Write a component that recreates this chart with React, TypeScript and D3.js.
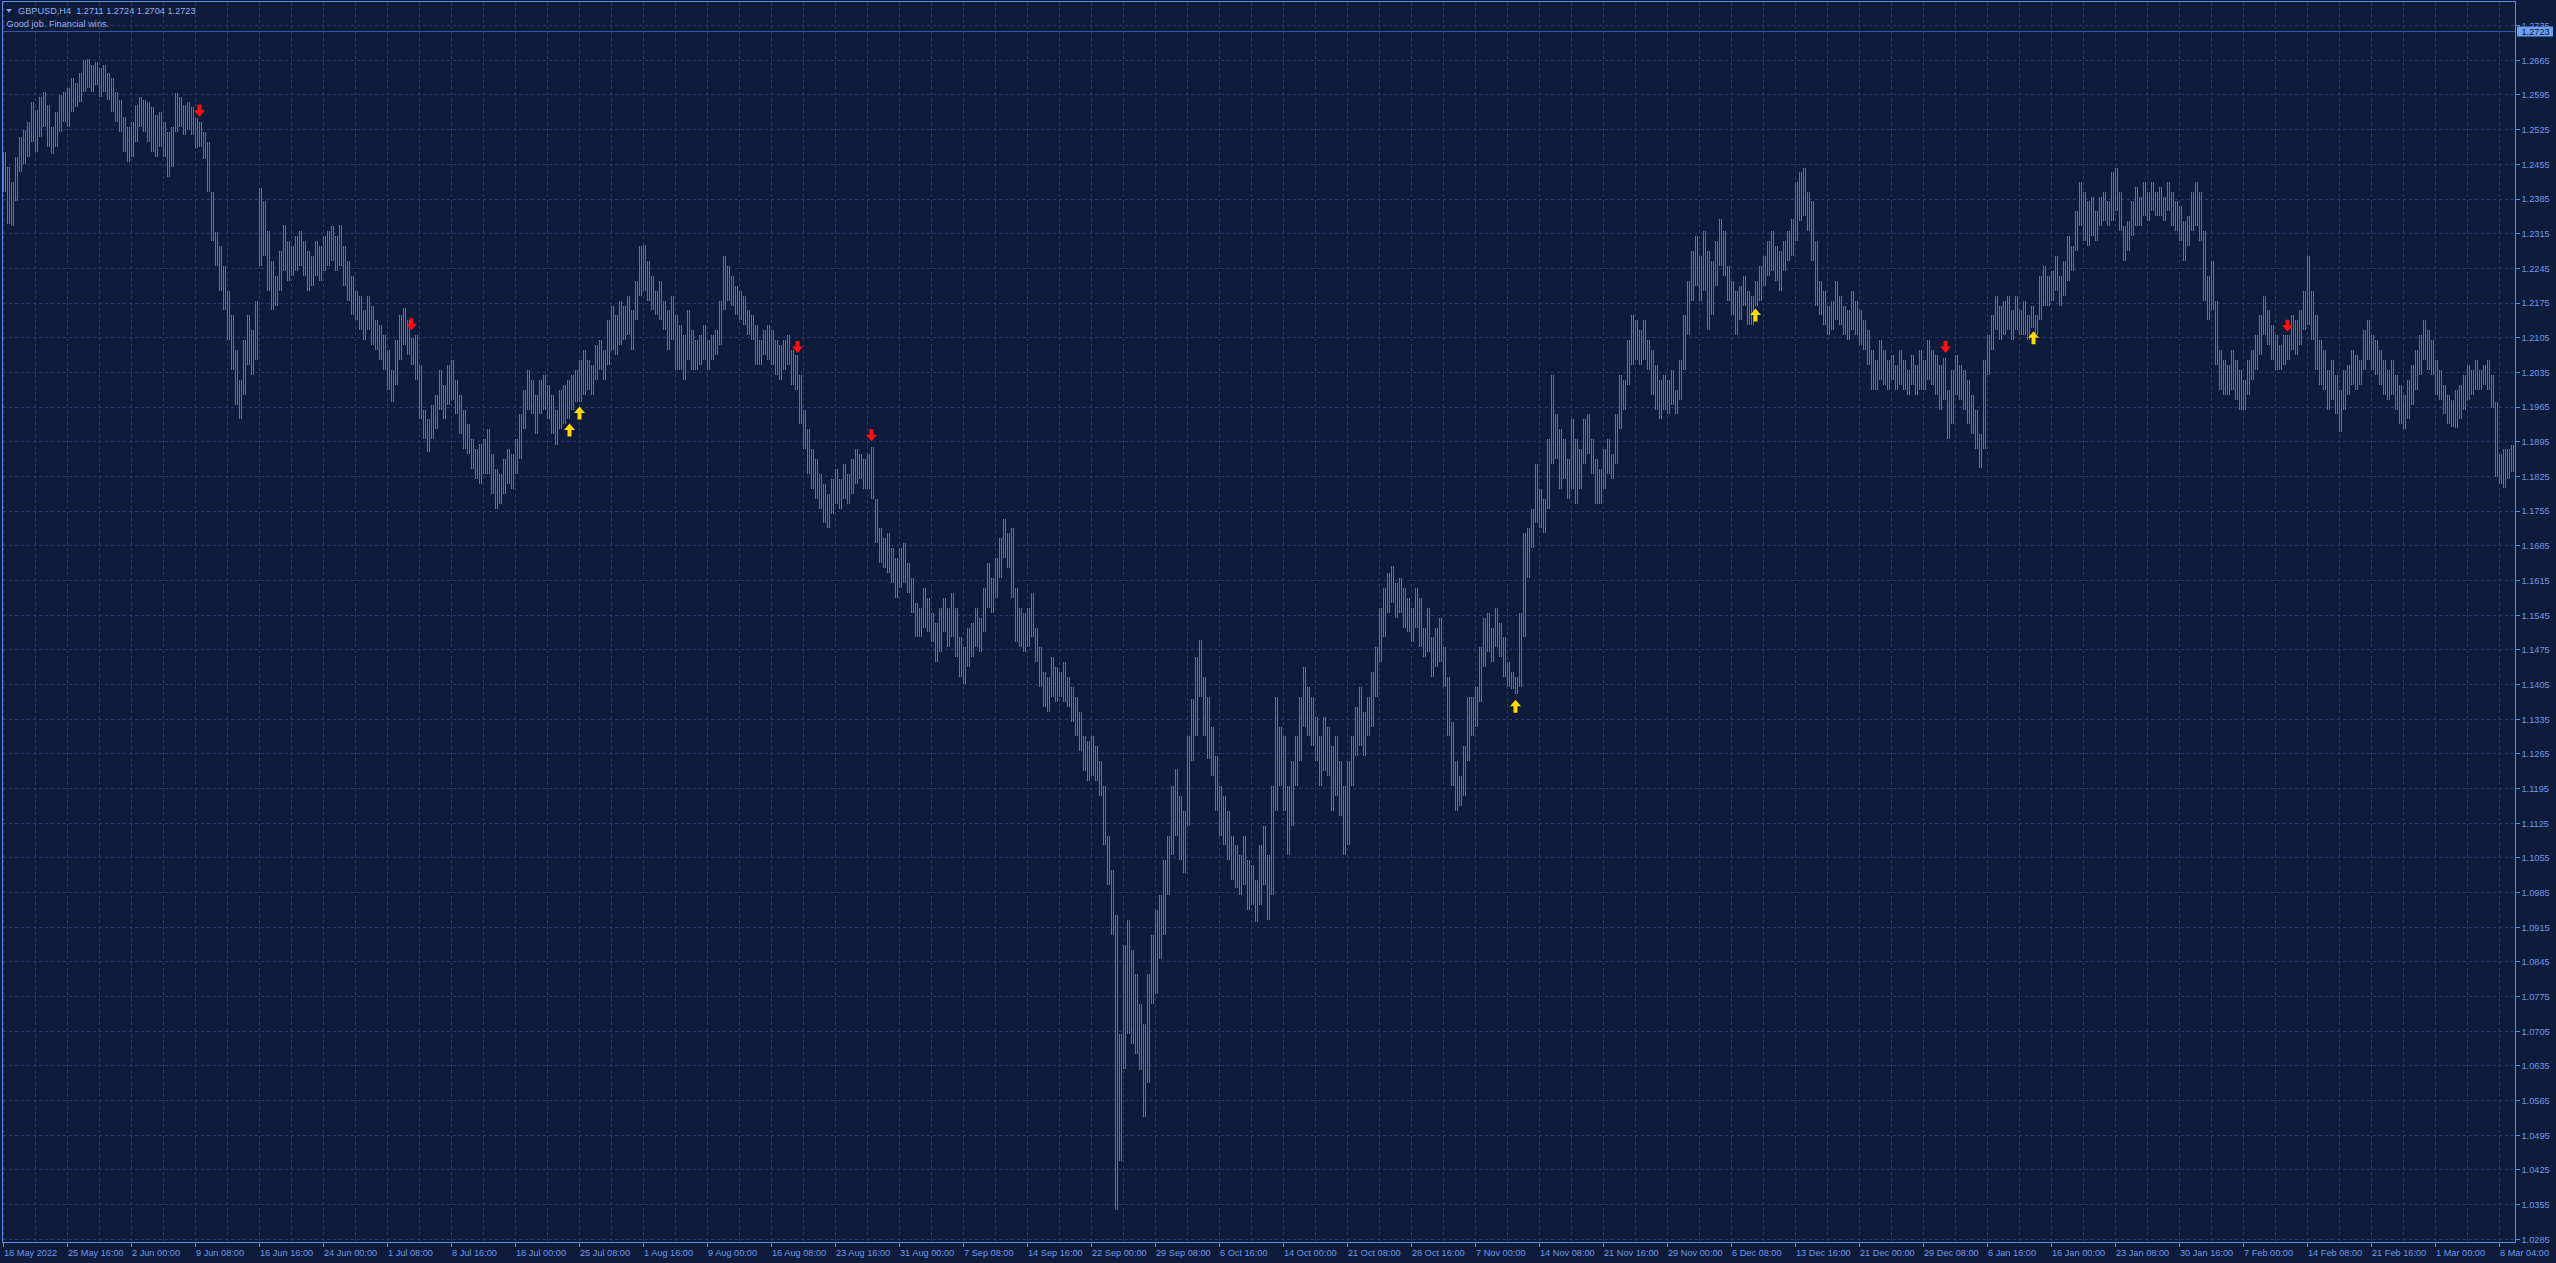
import React from 'react';
import * as d3 from 'd3';

// ---------- data (GBPUSD H4, each entry = range of two consecutive H4 bars; prices x 10000) ----------
const HIGHS: number[] = [
12480,12450,12420,12470,12510,12525,12540,12580,12565,12590,12600,12575,12530,12560,12595,12600,
12610,12630,12620,12640,12665,12668,12655,12662,12650,12655,12640,12630,12600,12585,12550,12530,
12540,12575,12590,12585,12580,12571,12555,12560,12541,12520,12530,12599,12590,12575,12581,12570,
12548,12540,12521,12500,12400,12318,12290,12250,12200,12150,12080,12020,12100,12150,12120,12180,
12407,12380,12320,12260,12230,12280,12333,12300,12290,12310,12320,12300,12280,12270,12300,12290,
12310,12320,12330,12310,12333,12290,12260,12230,12200,12190,12160,12190,12170,12140,12130,12110,
12080,12040,12100,12150,12165,12140,12105,12110,12050,11960,11940,11970,11990,12040,12010,12050,
12060,12020,11990,11960,11930,11900,11880,11890,11900,11920,11870,11840,11830,11860,11880,11870,
11900,11950,12000,12040,12020,11990,12020,12030,12010,11990,11960,12000,12010,12020,12030,12040,
12060,12080,12060,12050,12090,12100,12080,12140,12170,12150,12180,12170,12190,12160,12220,12290,
12293,12260,12230,12200,12220,12180,12160,12190,12150,12130,12110,12160,12120,12100,12110,12130,
12100,12110,12120,12180,12270,12250,12230,12210,12200,12190,12160,12150,12130,12100,12120,12130,
12120,12100,12090,12100,12110,12080,12070,12030,11960,11920,11880,11860,11830,11810,11790,11820,
11840,11820,11850,11830,11860,11880,11870,11860,11870,11885,11780,11720,11700,11710,11680,11660,
11680,11690,11650,11620,11570,11560,11600,11580,11550,11530,11560,11580,11560,11590,11560,11500,
11480,11520,11530,11560,11540,11600,11650,11620,11660,11700,11740,11710,11720,11600,11560,11550,
11560,11590,11520,11480,11430,11420,11460,11440,11430,11450,11420,11400,11380,11350,11300,11290,
11300,11280,11250,11200,11100,11030,10940,10700,10880,10930,10870,10820,10760,10720,10820,10900,
10950,10980,11050,11100,11200,11235,11180,11150,11300,11375,11460,11495,11420,11380,11320,11260,
11200,11180,11150,11100,11080,11060,11100,11050,11040,11010,11080,11120,11060,11200,11380,11320,
11300,11200,11250,11300,11380,11440,11400,11380,11340,11300,11340,11320,11280,11300,11250,11200,
11250,11300,11360,11400,11350,11380,11430,11480,11560,11600,11630,11645,11610,11620,11600,11580,
11560,11600,11580,11520,11560,11500,11520,11540,11480,11420,11330,11250,11220,11280,11380,11380,
11400,11480,11540,11550,11520,11560,11530,11500,11450,11430,11420,11550,11710,11720,11760,11850,
11800,11780,11900,12030,11950,11920,11900,11860,11940,11900,11880,11940,11950,11900,11860,11840,
11880,11900,11870,11950,12030,12020,12100,12150,12140,12120,12140,12100,12080,12050,12020,12030,
12020,12040,12000,12060,12150,12220,12280,12310,12270,12320,12280,12260,12300,12345,12320,12250,
12220,12200,12210,12230,12200,12190,12220,12250,12270,12300,12320,12290,12280,12300,12320,12345,
12420,12440,12448,12400,12380,12300,12220,12200,12170,12180,12220,12190,12170,12160,12200,12180,
12160,12140,12120,12080,12060,12100,12080,12060,12070,12050,12080,12060,12040,12070,12050,12080,
12060,12100,12080,12070,12050,12065,12000,12040,12070,12050,12040,12020,11990,11960,11910,12060,
12110,12150,12190,12170,12180,12190,12160,12190,12160,12180,12150,12170,12150,12230,12250,12230,
12240,12270,12230,12260,12310,12290,12360,12420,12400,12380,12390,12360,12390,12400,12380,12440,
12447,12400,12330,12340,12380,12410,12390,12420,12400,12420,12400,12410,12390,12420,12400,12380,
12370,12340,12350,12400,12420,12400,12320,12230,12260,12180,12080,12060,12050,12080,12060,12040,
12020,12060,12080,12110,12150,12190,12160,12130,12110,12090,12110,12110,12150,12140,12160,12200,
12270,12200,12150,12100,12080,12040,12060,12030,12000,12040,12050,12080,12070,12060,12120,12140,
12110,12100,12080,12060,12040,12060,12030,12010,11990,12020,12050,12080,12110,12140,12120,12100,
12060,12040,12010,11990,11980,12000,12010,12030,12050,12040,12060,12040,12050,12060,12030,11976,
11870,11880,11880,11888,
];

const LOWS: number[] = [
12400,12335,12330,12380,12440,12455,12470,12500,12480,12510,12530,12490,12475,12490,12520,12540,
12530,12560,12570,12580,12600,12610,12600,12615,12590,12600,12585,12560,12540,12520,12480,12460,
12470,12500,12530,12520,12500,12480,12470,12490,12470,12430,12450,12520,12530,12515,12525,12514,
12488,12490,12465,12400,12300,12250,12200,12160,12100,12040,11970,11940,11990,12050,12030,12060,
12250,12270,12200,12160,12170,12200,12240,12220,12230,12240,12250,12230,12200,12210,12230,12220,
12240,12250,12260,12240,12250,12210,12180,12150,12140,12120,12100,12120,12090,12080,12060,12040,
12000,11975,12010,12060,12090,12070,12050,12020,11940,11900,11875,11900,11920,11960,11940,11970,
11980,11950,11910,11880,11870,11840,11820,11810,11830,11830,11790,11760,11770,11790,11810,11800,
11830,11860,11920,11960,11950,11910,11950,11960,11940,11910,11888,11920,11930,11940,11960,11975,
11975,11990,12000,11990,12020,12040,12020,12050,12080,12070,12090,12100,12110,12080,12140,12190,
12200,12180,12160,12150,12140,12120,12080,12100,12040,12040,12020,12060,12040,12040,12050,12060,
12040,12060,12070,12090,12160,12180,12170,12150,12140,12130,12110,12100,12050,12050,12070,12060,
12050,12030,12020,12040,12050,12010,12000,11930,11880,11830,11800,11780,11760,11730,11720,11750,
11770,11760,11780,11770,11790,11810,11820,11800,11800,11780,11690,11650,11640,11630,11610,11580,
11600,11610,11590,11550,11500,11500,11520,11510,11490,11450,11470,11510,11480,11500,11460,11420,
11405,11440,11460,11480,11470,11510,11560,11550,11580,11620,11660,11640,11580,11490,11480,11470,
11480,11500,11450,11400,11360,11350,11380,11370,11380,11370,11360,11330,11300,11270,11230,11210,
11220,11210,11180,11080,11000,10900,10345,10443,10629,10700,10680,10660,10627,10532,10600,10760,
10780,10850,10900,10980,11060,11100,11050,11025,11120,11250,11300,11380,11300,11255,11220,11150,
11100,11080,11050,11010,10995,10980,11000,10950,10960,10925,10960,11000,10930,10980,11150,11200,
11150,11060,11120,11200,11250,11320,11300,11280,11250,11200,11230,11220,11150,11180,11140,11060,
11080,11200,11260,11280,11260,11300,11320,11380,11450,11500,11550,11570,11540,11550,11520,11510,
11490,11520,11480,11460,11470,11420,11440,11450,11400,11300,11200,11150,11160,11180,11250,11300,
11320,11370,11440,11470,11450,11480,11460,11420,11400,11395,11385,11400,11500,11620,11680,11730,
11720,11710,11760,11850,11860,11800,11820,11780,11800,11770,11800,11850,11870,11830,11770,11770,
11800,11830,11820,11850,11920,11960,12010,12050,12060,12050,12060,12040,11990,11960,11940,11960,
11950,11970,11950,11980,12040,12110,12180,12210,12180,12200,12120,12150,12210,12250,12230,12180,
12150,12110,12140,12170,12130,12130,12170,12180,12210,12230,12240,12220,12200,12240,12260,12270,
12300,12340,12350,12320,12260,12170,12150,12130,12110,12120,12140,12130,12110,12100,12120,12110,
12090,12080,12050,12000,12000,12020,12010,12000,12020,12000,12010,12000,11990,12010,11990,12000,
12000,12020,12010,11990,11960,11980,11900,11930,11990,11980,11960,11930,11910,11880,11841,11880,
12030,12080,12120,12100,12110,12120,12100,12120,12110,12110,12100,12125,12110,12140,12170,12170,
12180,12200,12170,12190,12220,12240,12280,12330,12300,12290,12310,12300,12330,12340,12330,12340,
12360,12320,12260,12280,12310,12330,12330,12350,12340,12360,12350,12350,12340,12360,12330,12320,
12300,12260,12290,12320,12330,12300,12180,12140,12160,12050,12000,11990,11990,12000,11980,11960,
11960,11990,12020,12040,12070,12110,12090,12060,12040,12040,12050,12060,12080,12070,12090,12120,
12130,12100,12040,12010,12000,11960,11980,11950,11915,11960,11990,12010,12000,12010,12040,12060,
12040,12030,12010,11990,11980,11990,11960,11930,11920,11940,11970,12000,12030,12060,12040,12030,
11990,11980,11950,11930,11925,11923,11940,11960,11980,11990,12000,12000,12010,12000,11963,11824,
11810,11802,11820,11834,
];

const TIME_LABELS: string[] = [
  '18 May 2022', '25 May 16:00', '2 Jun 00:00', '9 Jun 08:00', '16 Jun 16:00', '24 Jun 00:00',
  '1 Jul 08:00', '8 Jul 16:00', '18 Jul 00:00', '25 Jul 08:00', '1 Aug 16:00', '9 Aug 00:00',
  '16 Aug 08:00', '23 Aug 16:00', '31 Aug 00:00', '7 Sep 08:00', '14 Sep 16:00', '22 Sep 00:00',
  '29 Sep 08:00', '6 Oct 16:00', '14 Oct 00:00', '21 Oct 08:00', '28 Oct 16:00', '7 Nov 00:00',
  '14 Nov 08:00', '21 Nov 16:00', '29 Nov 00:00', '6 Dec 08:00', '13 Dec 16:00', '21 Dec 00:00',
  '29 Dec 08:00', '6 Jan 16:00', '16 Jan 00:00', '23 Jan 08:00', '30 Jan 16:00', '7 Feb 00:00',
  '14 Feb 08:00', '21 Feb 16:00', '1 Mar 00:00', '8 Mar 04:00',
];
const BARS_PER_LABEL = 32;
const BARS_PER_ENTRY = 2;

// sell signals (down arrows above bars) / buy signals (up arrows below bars): H4 bar index, price at arrow tip
const SELL_BARS = [98, 204, 397, 434, 971, 1142];
const SELL_PRICES = [1.2551, 1.2120, 1.2074, 1.1896, 1.2074, 1.2117];
const BUY_BARS = [283, 288, 756, 876, 1015];
const BUY_PRICES = [1.1932, 1.1966, 1.1374, 1.2164, 1.2118];

const PRICE_MIN_TICK = 1.0285;
const PRICE_STEP = 0.007;
const PRICE_TICK_COUNT = 36;
const BID = 1.2723;
const HEADER = 'GBPUSD,H4  1.2711 1.2724 1.2704 1.2723';
const SUBHEADER = 'Good job. Financial wins.';

// ---------- styling ----------
const W = 2556, H = 1263;
const BG = '#0f1b3b';
const GRID = '#1f3d7e';
const BAR = '#4874d2';
const BORDER = '#5d8be4';
const TEXT = '#6b9aec';
const FONT = "'Liberation Sans', Arial, sans-serif";
const FS = 9.2;

const PLOT = { left: 2.5, top: 1.5, right: 2515.5, bottom: 1242.5 };

export default function App() {
  const x = d3.scaleLinear().domain([0, 1]).range([3.3, 5.3]); // H4 bar index -> px
  const y = d3.scaleLinear().domain([1.0285, 1.2665]).range([1239.3, 60.3]);

  const priceTicks = d3.range(PRICE_TICK_COUNT).map((k) => +(PRICE_MIN_TICK + PRICE_STEP * k).toFixed(4));
  const nGrid = TIME_LABELS.length * 2 - 1;
  const gridBars = d3.range(nGrid).map((k) => k * (BARS_PER_LABEL / 2));

  const crisp = (v: number) => Math.floor(v) + 0.5;
  const bidY = crisp(y(BID));

  const downArrow = (cx: number, t: number) =>
    `M${cx - 2},${t - 12} L${cx + 2},${t - 12} L${cx + 2},${t - 6.5} L${cx + 5.5},${t - 6.5} L${cx},${t} L${cx - 5.5},${t - 6.5} L${cx - 2},${t - 6.5} Z`;
  const upArrow = (cx: number, t: number) =>
    `M${cx},${t} L${cx + 5.5},${t + 6.5} L${cx + 2},${t + 6.5} L${cx + 2},${t + 13} L${cx - 2},${t + 13} L${cx - 2},${t + 6.5} L${cx - 5.5},${t + 6.5} Z`;

  // every entry spans two H4 slots; draw a 1px range line in each slot
  const barMarks: { key: string; x: number; top: number; h: number }[] = [];
  HIGHS.forEach((hi, i) => {
    const top = y(hi / 10000);
    const bot = y(LOWS[i] / 10000);
    for (let s = 0; s < BARS_PER_ENTRY; s++) {
      barMarks.push({ key: i + '-' + s, x: Math.floor(x(i * BARS_PER_ENTRY + s)), top, h: Math.max(1, bot - top) });
    }
  });

  return (
    <svg width={W} height={H} style={{ position: 'absolute', left: 0, top: 0, display: 'block' }}>
      <defs>
        <clipPath id="plotclip">
          <rect x={PLOT.left} y={PLOT.top} width={PLOT.right - PLOT.left} height={PLOT.bottom - PLOT.top} />
        </clipPath>
      </defs>
      <rect x={0} y={0} width={W} height={H} fill={BG} />

      {/* grid */}
      <g stroke={GRID} strokeWidth={1} strokeDasharray="3,3" shapeRendering="crispEdges">
        {priceTicks.map((p) => (
          <line key={'h' + p} x1={PLOT.left} x2={PLOT.right} y1={crisp(y(p))} y2={crisp(y(p))} />
        ))}
        {gridBars.map((b) => (
          <line key={'v' + b} x1={crisp(x(b))} x2={crisp(x(b))} y1={PLOT.top} y2={PLOT.bottom} />
        ))}
      </g>

      {/* bid line */}
      <line x1={PLOT.left} x2={PLOT.right} y1={bidY} y2={bidY} stroke="#34589f" strokeWidth={1} shapeRendering="crispEdges" />

      {/* bars */}
      <g clipPath="url(#plotclip)" fill={BAR} shapeRendering="crispEdges">
        {barMarks.map((m) => (
          <rect key={m.key} x={m.x} y={m.top} width={1} height={m.h} />
        ))}
      </g>

      {/* signal arrows */}
      <g>
        {SELL_BARS.map((b, i) => (
          <path key={'s' + i} d={downArrow(Math.floor(x(b)) + 0.5, y(SELL_PRICES[i]))} fill="#ff1010" />
        ))}
        {BUY_BARS.map((b, i) => (
          <path key={'b' + i} d={upArrow(Math.floor(x(b)) + 0.5, y(BUY_PRICES[i]))} fill="#ffd800" />
        ))}
      </g>

      {/* border */}
      <rect x={PLOT.left} y={PLOT.top} width={PLOT.right - PLOT.left} height={PLOT.bottom - PLOT.top}
        fill="none" stroke={BORDER} strokeWidth={1} shapeRendering="crispEdges" />

      {/* price axis */}
      <g fontFamily={FONT} fontSize={FS} fill={TEXT}>
        {priceTicks.map((p) => (
          <g key={'pt' + p}>
            <line x1={PLOT.right} x2={PLOT.right + 4} y1={crisp(y(p))} y2={crisp(y(p))} stroke={BORDER} shapeRendering="crispEdges" />
            <text x={2521.5} y={y(p) + 3.4}>{p.toFixed(4)}</text>
          </g>
        ))}
      </g>

      {/* bid label */}
      <rect x={2517} y={bidY - 5} width={36} height={10} fill="#6d9ff0" />
      <text x={2521.5} y={bidY + 3.4} fontFamily={FONT} fontSize={FS} fill="#0f1b3b">{BID.toFixed(4)}</text>

      {/* time axis */}
      <g fontFamily={FONT} fontSize={FS} fill={TEXT}>
        {TIME_LABELS.map((lab, k) => {
          const xx = crisp(x(k * BARS_PER_LABEL));
          return (
            <g key={'tl' + k}>
              <line x1={xx} x2={xx} y1={PLOT.bottom} y2={PLOT.bottom + 4} stroke={BORDER} shapeRendering="crispEdges" />
              <text x={xx + 0.5} y={1255.5}>{lab}</text>
            </g>
          );
        })}
      </g>

      {/* header */}
      <path d="M6,9 L12,9 L9,12.5 Z" fill="#8fb2ee" />
      <text x={18} y={14} fontFamily={FONT} fontSize={FS} fill="#8fb2ee" style={{ whiteSpace: 'pre' }}>{HEADER}</text>
      <text x={6.5} y={27.3} fontFamily={FONT} fontSize={FS} fill="#8fb2ee">{SUBHEADER}</text>
    </svg>
  );
}
